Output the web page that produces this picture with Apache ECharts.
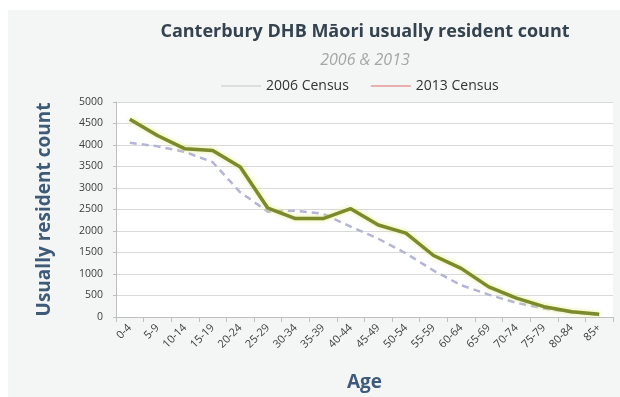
<!DOCTYPE html>
<html>
<head>
<meta charset="utf-8">
<script src="https://cdn.jsdelivr.net/npm/echarts@6/dist/echarts.min.js"></script>
<style>
  html, body { margin: 0; padding: 0; background: #fff; }
  #main { width: 620px; height: 397px; }
</style>
</head>
<body>
<div id="main"></div>
<script>
// age groups
var ages = ['0-4', '5-9', '10-14', '15-19', '20-24', '25-29', '30-34', '35-39', '40-44',
    '45-49', '50-54', '55-59', '60-64', '65-69', '70-74', '75-79', '80-84', '85+'];
// counts
var census2006 = [4050, 3970, 3840, 3600, 2900, 2450, 2470, 2400, 2100, 1820, 1480, 1080, 740, 520, 330, 200, 110, 55];
var census2013 = [4600, 4220, 3910, 3870, 3490, 2530, 2290, 2290, 2520, 2140, 1950, 1430, 1130, 700, 440, 240, 120, 65];
var yTicks = [0, 500, 1000, 1500, 2000, 2500, 3000, 3500, 4000, 4500, 5000];

var chart = echarts.init(document.getElementById('main'));

var font = '"Open Sans", Lato, sans-serif';

var option = {
    backgroundColor: '#ffffff',
    animation: false,
    graphic: [
        // light grey panel behind everything
        {
            type: 'rect', z: -10,
            shape: { x: 8, y: 10, width: 612, height: 387 },
            style: { fill: '#f4f5f5' }
        }
    ],
    title: [
        {
            text: 'Canterbury DHB Māori usually resident count',
            left: 360, top: 18, textAlign: 'center',
            textStyle: { fontFamily: font, fontSize: 18, fontWeight: 'bold', color: '#34434f' }
        },
        {
            text: '2006 & 2013',
            left: 360, top: 47, textAlign: 'center',
            textStyle: { fontFamily: font, fontSize: 16, fontStyle: 'italic', fontWeight: 'normal', color: '#a6a6a6' }
        }
    ],
    legend: {
        top: 74, left: 216,
        itemWidth: 40, itemHeight: 1, itemGap: 22,
        icon: 'rect',
        textStyle: { fontFamily: font, fontSize: 14, color: '#333' },
        data: [
            { name: '2006 Census', itemStyle: { color: '#c8c8cc' } },
            { name: '2013 Census', itemStyle: { color: '#e06b6b' } }
        ]
    },
    grid: {
        left: 116, right: 7, top: 102, bottom: 80,
        show: true, backgroundColor: '#ffffff', borderWidth: 0
    },
    xAxis: {
        type: 'category',
        data: ages,
        boundaryGap: true,
        name: 'Age',
        nameLocation: 'middle',
        nameGap: 56,
        nameTextStyle: { fontFamily: font, fontSize: 19, fontWeight: 'bold', color: '#3d5a78' },
        axisLine: { lineStyle: { color: '#bfbfbf' } },
        axisTick: { show: true, alignWithLabel: false, lineStyle: { color: '#bfbfbf' } },
        axisLabel: { rotate: 45, fontFamily: font, fontSize: 11, color: '#404040', margin: 9 }
    },
    yAxis: {
        type: 'value',
        min: 0, max: 5000, interval: 500,
        name: 'Usually resident count',
        nameLocation: 'middle',
        nameGap: 62,
        nameTextStyle: { fontFamily: font, fontSize: 19, fontWeight: 'bold', color: '#3d5a78' },
        axisLine: { show: true, lineStyle: { color: '#bfbfbf' } },
        axisTick: { show: true, length: 3, lineStyle: { color: '#bfbfbf' } },
        axisLabel: {
            fontFamily: font, fontSize: 10.5, color: '#404040', margin: 13,
            formatter: function (v) { return yTicks.indexOf(v) >= 0 ? String(v) : ''; }
        },
        splitLine: { lineStyle: { color: '#d9d9d9' } }
    },
    series: [
        {
            name: '2006 Census',
            type: 'line',
            data: census2006,
            symbol: 'none',
            lineStyle: { color: '#b4b4d8', width: 2.5, type: [7, 5] },
            itemStyle: { color: '#b4b4d8' },
            z: 2
        },
        {
            name: '2013 Census',
            type: 'line',
            data: census2013,
            symbol: 'none',
            lineStyle: {
                color: '#7b8a2c', width: 3.5,
                shadowColor: 'rgba(225, 235, 120, 0.9)', shadowBlur: 4
            },
            itemStyle: { color: '#7b8a2c' },
            z: 3
        }
    ]
};

chart.setOption(option);
</script>
</body>
</html>
